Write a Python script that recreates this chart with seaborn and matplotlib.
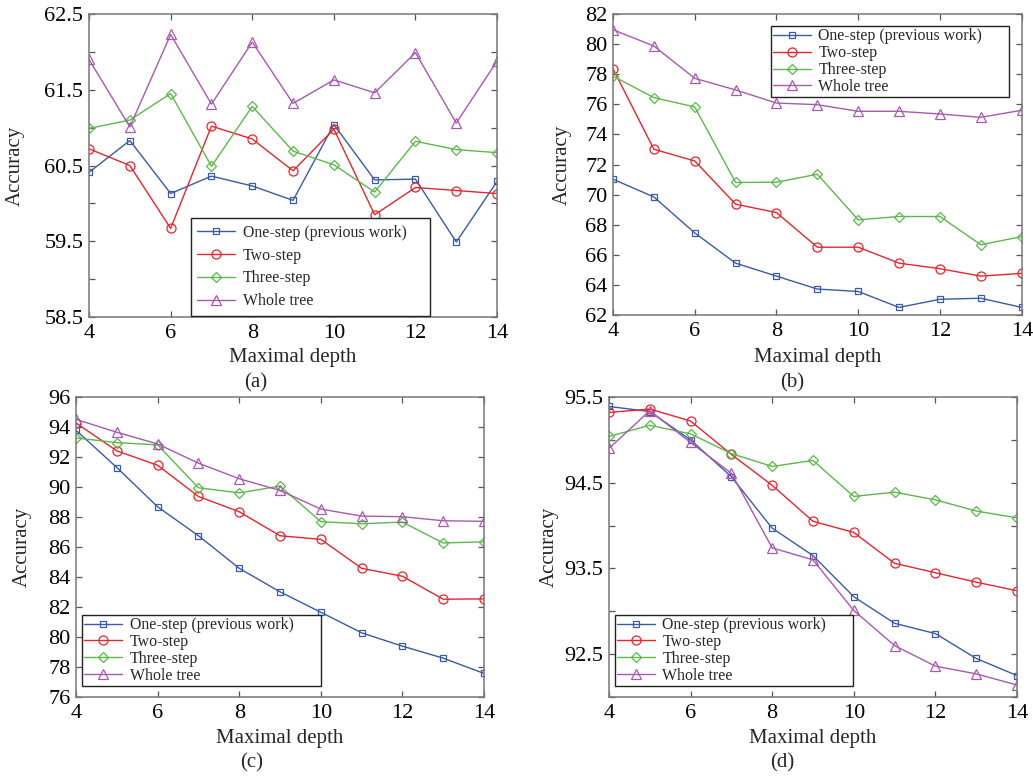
import numpy as np
import pandas as pd
import matplotlib
matplotlib.use("Agg")
import matplotlib.pyplot as plt
import seaborn as sns

sns.set_style("ticks")
plt.rcParams['font.family'] = ['Liberation Serif', 'DejaVu Serif']

depth = [4, 5, 6, 7, 8, 9, 10, 11, 12, 13, 14]
series_names = ["One-step (previous work)", "Two-step", "Three-step", "Whole tree"]

# Panel (a)
a_one = [60.41, 60.83, 60.13, 60.36, 60.23, 60.04, 61.04, 60.31, 60.32, 59.49, 60.29]
a_two = [60.72, 60.50, 59.67, 61.02, 60.85, 60.43, 60.98, 59.85, 60.21, 60.17, 60.13]
a_three = [60.99, 61.10, 61.45, 60.49, 61.28, 60.69, 60.51, 60.15, 60.82, 60.71, 60.67]
a_whole = [61.90, 61.01, 62.23, 61.31, 62.13, 61.32, 61.63, 61.46, 61.99, 61.06, 61.88]

# Panel (b)
b_one = [71.03, 69.85, 67.46, 65.45, 64.59, 63.73, 63.57, 62.51, 63.05, 63.12, 62.51]
b_two = [78.37, 73.02, 72.24, 69.37, 68.81, 66.51, 66.51, 65.45, 65.08, 64.59, 64.77]
b_three = [77.88, 76.45, 75.83, 70.81, 70.83, 71.36, 68.33, 68.55, 68.55, 66.67, 67.22]
b_whole = [80.96, 79.88, 77.73, 76.96, 76.09, 75.98, 75.54, 75.54, 75.36, 75.14, 75.61]

# Panel (c)
c_one = [93.78, 91.30, 88.68, 86.75, 84.58, 83.01, 81.65, 80.28, 79.39, 78.59, 77.57]
c_two = [94.27, 92.41, 91.45, 89.37, 88.35, 86.75, 86.51, 84.58, 84.05, 82.52, 82.54]
c_three = [93.27, 92.96, 92.81, 89.95, 89.61, 90.06, 87.69, 87.55, 87.66, 86.27, 86.35]
c_whole = [94.51, 93.65, 92.87, 91.59, 90.55, 89.77, 88.53, 88.06, 88.02, 87.75, 87.71]

# Panel (d)
d_one = [95.39, 95.33, 95.00, 94.57, 93.97, 93.65, 93.17, 92.86, 92.74, 92.45, 92.25]
d_two = [95.32, 95.36, 95.22, 94.83, 94.47, 94.05, 93.92, 93.56, 93.45, 93.34, 93.24]
d_three = [95.04, 95.17, 95.07, 94.84, 94.69, 94.76, 94.34, 94.39, 94.30, 94.17, 94.09]
d_whole = [94.90, 95.34, 94.97, 94.61, 93.74, 93.60, 93.01, 92.60, 92.36, 92.27, 92.14]

captions = ["(a)", "(b)", "(c)", "(d)"]
x_label = "Maximal depth"
y_label = "Accuracy"
x_ticks = [4, 6, 8, 10, 12, 14]

colors = ["#3a5aa8", "#e8242c", "#5cb84a", "#a858b0"]
markers = ["s", "o", "D", "^"]
msizes = [5, 6.5, 5.5, 7.5]

panels = [
    dict(data=[a_one, a_two, a_three, a_whole], ylim=(58.5, 62.5),
         major=[58.5, 59.5, 60.5, 61.5, 62.5], minor=np.arange(58.5, 62.51, 0.5),
         fmt="%.1f", pos=[0.0862, 0.5925, 0.395, 0.3895],
         leg=dict(loc="lower left", bbox=(0.25, 0.005, 0.586, 0), spacing=0.43, bpad=0.4),
         ylab_x=-0.157, xlab_y=-0.102, cap=(256, 383)),
    dict(data=[b_one, b_two, b_three, b_whole], ylim=(62, 82),
         major=list(range(62, 83, 2)), minor=None,
         fmt="%d", pos=[0.5934, 0.595, 0.3957, 0.3869],
         leg=dict(loc="upper left", bbox=(0.386, 0.96, 0.584, 0), spacing=0.05, bpad=0.15),
         ylab_x=-0.10, xlab_y=-0.11, cap=(792, 383)),
    dict(data=[c_one, c_two, c_three, c_whole], ylim=(76, 96),
         major=list(range(76, 97, 2)), minor=None,
         fmt="%d", pos=[0.0736, 0.1041, 0.395, 0.3856],
         leg=dict(loc="lower left", bbox=(0.0147, 0.037, 0.586, 0), spacing=0.05, bpad=0.15),
         ylab_x=-0.108, xlab_y=-0.107, cap=(252, 763)),
    dict(data=[d_one, d_two, d_three, d_whole], ylim=(92.0, 95.5),
         major=[92.5, 93.5, 94.5, 95.5], minor=np.arange(92.0, 95.51, 0.5),
         fmt="%.1f", pos=[0.5895, 0.1041, 0.395, 0.3856],
         leg=dict(loc="lower left", bbox=(0.0147, 0.037, 0.583, 0), spacing=0.05, bpad=0.15),
         ylab_x=-0.123, xlab_y=-0.107, cap=(782, 763)),
]

fig = plt.figure(figsize=(10.33, 7.78), dpi=100)
W, H = 1033, 778

for p, cap in zip(panels, captions):
    ax = fig.add_axes(p["pos"])
    for name, vals, c, m, ms in zip(series_names, p["data"], colors, markers, msizes):
        df = pd.DataFrame({"depth": depth, "acc": vals})
        sns.lineplot(data=df, x="depth", y="acc", ax=ax, color=c, marker=m,
                     markersize=ms, mec=c, mfc="none", mew=0.9, linewidth=1.0,
                     label=name)
    ax.set_xlim(4, 14)
    ax.set_ylim(*p["ylim"])
    ax.set_xticks(x_ticks)
    if p["minor"] is not None:
        ax.set_yticks(p["minor"])
        ax.set_yticklabels([(p["fmt"] % v) if any(abs(v - mj) < 1e-6 for mj in p["major"]) else ""
                            for v in p["minor"]])
    else:
        ax.set_yticks(p["major"])
        ax.set_yticklabels([p["fmt"] % v for v in p["major"]])
    ax.tick_params(direction="in", length=4, width=0.9, colors="#555555",
                   labelcolor="black", labelsize=16, top=True, right=True,
                   pad=4)
    ax.tick_params(axis="x", pad=5)
    for s in ax.spines.values():
        s.set_color("#777777")
        s.set_linewidth(1.1)
    ax.set_xlabel(x_label, fontsize=15)
    ax.set_ylabel(y_label, fontsize=15)
    ax.yaxis.set_label_coords(p["ylab_x"], 0.5)
    ax.xaxis.set_label_coords(0.5, p["xlab_y"])
    lg = p["leg"]
    leg = ax.legend(loc=lg["loc"], bbox_to_anchor=lg["bbox"], mode="expand",
                    fontsize=11.4, frameon=True, fancybox=False,
                    edgecolor="#222222", framealpha=1,
                    labelspacing=lg["spacing"], handlelength=2.4,
                    handletextpad=0.45, borderpad=lg["bpad"], borderaxespad=0)
    leg.get_frame().set_linewidth(1.0)
    fig.text(p["cap"][0] / W, 1 - p["cap"][1] / H, cap, fontsize=15,
             ha="center", va="center")

fig.savefig("out.png", dpi=100)
